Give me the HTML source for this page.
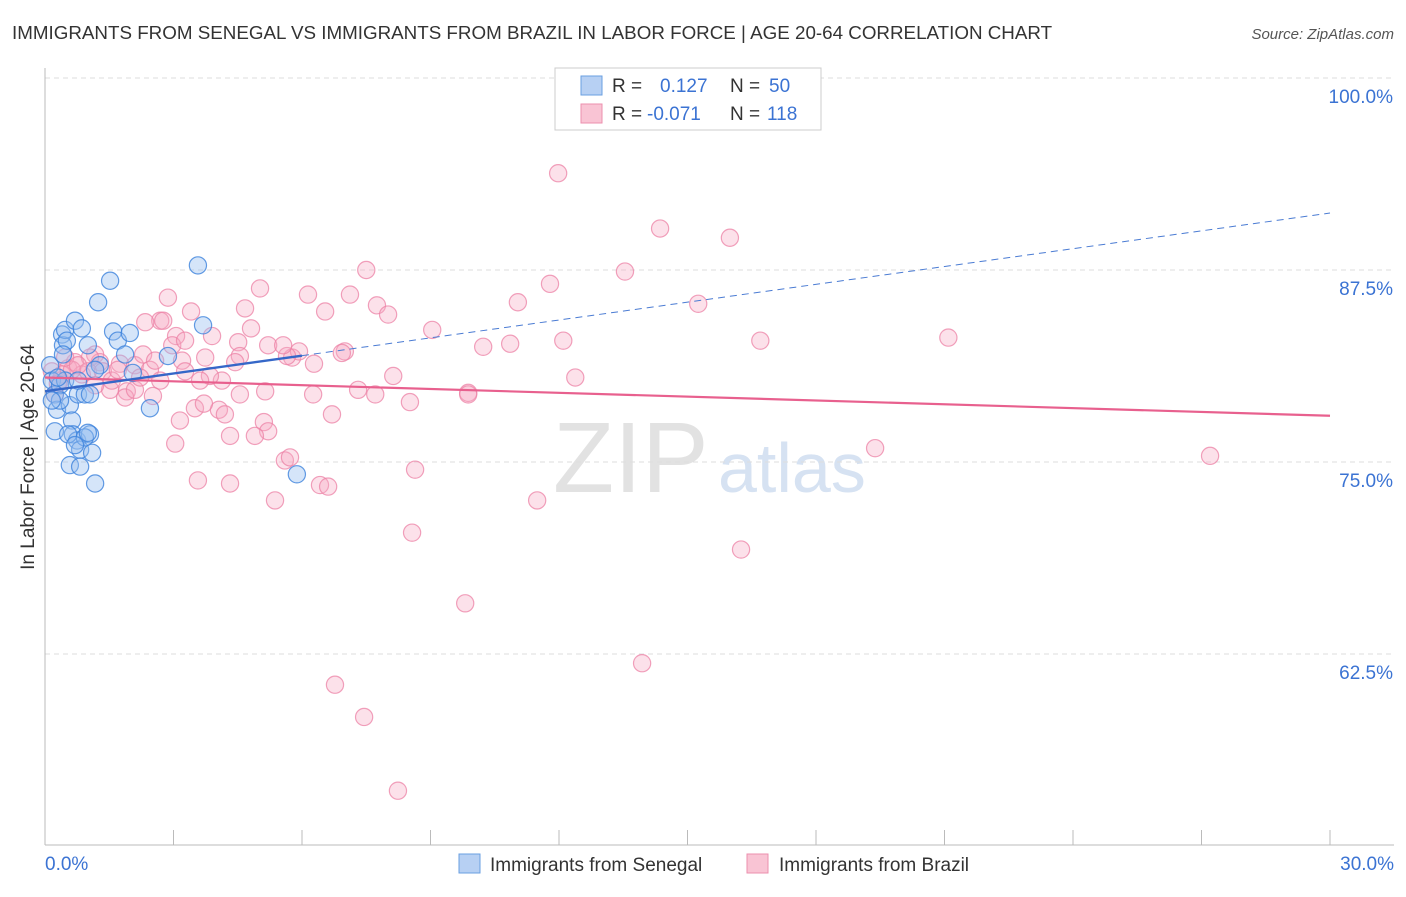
<!DOCTYPE html>
<html><head><meta charset="utf-8">
<style>
body{margin:0;background:#fff;font-family:"Liberation Sans",sans-serif;}
svg text{font-family:"Liberation Sans",sans-serif;}
</style></head>
<body>
<svg id="chart" width="1406" height="892" xmlns="http://www.w3.org/2000/svg">
<text x="12" y="39" font-size="18.8" fill="#333">IMMIGRANTS FROM SENEGAL VS IMMIGRANTS FROM BRAZIL IN LABOR FORCE | AGE 20-64 CORRELATION CHART</text>
<text x="1394" y="39" font-size="15" fill="#555" font-style="italic" text-anchor="end">Source: ZipAtlas.com</text>
<text x="553" y="492" font-size="100" fill="#e2e2e2" font-family="Liberation Serif">ZIP</text>
<text x="718" y="492" font-size="70" fill="#d6e2f2">atlas</text>
<g id="grid"></g>
<g id="axes"></g>
<g id="marks"></g>
<g>
<rect x="555" y="68" width="266" height="62" fill="#fff" stroke="#ccc"/>
<rect x="581" y="76" width="21" height="19" fill="#b7d0f3" stroke="#6a9fe0"/>
<rect x="581" y="104" width="21" height="19" fill="#f9c4d4" stroke="#ec8fae"/>
<text x="612" y="92" font-size="19" fill="#333">R = </text><text x="660" y="92" font-size="19" fill="#3b73d3">0.127</text>
<text x="730" y="92" font-size="19" fill="#333">N = </text><text x="769" y="92" font-size="19" fill="#3b73d3">50</text>
<text x="612" y="120" font-size="19" fill="#333">R = </text><text x="647" y="120" font-size="19" fill="#3b73d3">-0.071</text>
<text x="730" y="120" font-size="19" fill="#333">N = </text><text x="767" y="120" font-size="19" fill="#3b73d3">118</text>
</g>
<g>
<rect x="459" y="854" width="21" height="19" fill="#b7d0f3" stroke="#6a9fe0"/>
<text x="490" y="871" font-size="19" fill="#333">Immigrants from Senegal</text>
<rect x="747" y="854" width="21" height="19" fill="#f9c4d4" stroke="#ec8fae"/>
<text x="779" y="871" font-size="19" fill="#333">Immigrants from Brazil</text>
</g>
<text x="45" y="870" font-size="19" fill="#3b73d3">0.0%</text>
<text x="1394" y="870" font-size="19" fill="#3b73d3" text-anchor="end">30.0%</text>
<text transform="translate(34,457) rotate(-90)" font-size="19" fill="#333" text-anchor="middle">In Labor Force | Age 20-64</text>
</svg>
<script>
const senX=[0.12,0.16,0.23,0.28,0.35,0.40,0.42,0.47,0.51,0.58,0.63,0.65,0.70,0.75,0.77,0.82,0.86,0.93,1.00,1.05,1.10,1.17,1.24,1.28,1.52,1.59,1.70,1.87,1.98,2.05,2.45,2.87,3.57,3.69,5.88,0.23,0.35,0.47,0.58,0.82,0.93,1.05,0.16,0.30,0.54,0.70,1.00,0.42,0.77,1.17];
const senY=[81.3,80.3,79.4,78.4,80.0,83.3,82.6,83.6,82.9,78.7,77.7,76.8,84.2,76.4,79.4,75.8,83.7,79.4,82.6,76.8,75.6,73.6,85.4,81.3,86.8,83.5,82.9,82.0,83.4,80.8,78.5,81.9,87.8,83.9,74.2,77.0,79.0,80.3,74.8,74.7,76.6,79.4,79.0,80.5,76.8,76.1,76.9,82.0,80.3,81.0];
const braX=[11.98,14.36,15.99,13.54,11.79,15.25,11.04,7.50,5.02,6.14,7.12,7.75,8.01,6.54,9.04,12.10,16.70,21.09,10.86,10.23,7.00,5.77,5.93,6.28,2.87,3.41,4.67,4.81,4.51,3.90,3.06,2.69,2.34,2.76,1.17,1.28,1.75,2.10,2.45,3.20,3.74,4.55,5.65,6.93,8.13,12.38,9.88,9.88,8.52,7.71,7.31,6.26,5.14,4.55,4.13,3.85,3.27,2.69,1.91,1.87,1.52,2.52,3.50,4.06,4.20,5.11,5.21,4.32,6.70,4.90,3.04,5.60,5.72,8.64,3.57,4.32,5.37,6.42,6.61,11.49,8.57,16.25,9.81,13.94,6.77,7.45,8.24,19.38,27.20,0.54,0.70,0.86,1.05,0.35,0.23,0.40,1.00,0.63,1.35,1.56,2.10,2.29,3.15,3.71,5.21,5.56,4.44,0.16,0.30,0.47,0.77,1.17,1.70,2.22,2.57,2.97,3.27,3.62];
const braY=[93.8,90.2,89.6,87.4,86.6,85.3,85.4,87.5,86.3,85.9,85.9,85.2,84.6,84.8,83.6,82.9,82.9,83.1,82.7,82.5,82.2,81.8,82.2,81.4,85.7,84.8,85.0,83.7,82.8,83.2,83.2,84.2,84.1,84.2,82.0,81.5,81.4,81.3,81.0,81.6,81.8,81.9,81.9,82.1,80.6,80.5,79.5,79.4,78.9,79.4,79.7,79.4,79.6,79.4,80.3,80.6,80.9,80.3,79.6,79.2,79.7,79.3,78.5,78.4,78.1,77.6,77.0,76.7,78.1,76.7,76.2,75.1,75.3,74.5,73.8,73.6,72.5,73.5,73.4,72.5,70.4,69.3,65.8,61.9,60.5,58.4,53.6,75.9,75.4,81.1,81.5,80.7,81.8,80.3,79.4,80.7,80.9,81.0,80.9,80.3,79.7,82.0,77.7,78.8,82.6,82.6,81.5,80.9,80.1,81.8,81.3,80.0,81.0,80.5,81.6,82.6,82.9,80.3];
const senTrend=[79.6,0.387];
const braTrend=[80.5,-0.083];
const yTicks=[100,87.5,75,62.5];
const yTickLabels=["100.0%","87.5%","75.0%","62.5%"];
const xTicks=[0,3,6,9,12,15,18,21,24,27,30];

const NS="http://www.w3.org/2000/svg";
const X0=45,X1=1330,XMAX=30,Y100=78,PX_PER=15.36;
const sx=v=>X0+(v/XMAX)*(X1-X0);
const sy=v=>Y100+(100-v)*PX_PER;
function mk(tag,attrs,parent){const e=document.createElementNS(NS,tag);for(const k in attrs)e.setAttribute(k,attrs[k]);document.getElementById(parent).appendChild(e);return e;}

yTicks.forEach((t,i)=>{
 const l=mk('line',{x1:X0,x2:1394,y1:sy(t),y2:sy(t),stroke:'#ddd','stroke-dasharray':'5,4'},'grid');
 
 
 const tx=mk('text',{x:1393,y:sy(t)+25,'font-size':19,fill:'#3b73d3','text-anchor':'end'},'grid');
 tx.textContent=yTickLabels[i];
 
 
});
const ax=mk('line',{x1:X0,x2:X0,y1:68,y2:845,stroke:'#bbb'},'axes');


const bx=mk('line',{x1:X0,x2:1394,y1:845,y2:845,stroke:'#bbb'},'axes');


xTicks.forEach(t=>{
 const l=mk('line',{x1:sx(t),x2:sx(t),y1:830,y2:845,stroke:'#bbb'},'axes');
 
 
});

braX.forEach((v,i)=>{
 const c=mk('circle',{cx:sx(v),cy:sy(braY[i]),r:8.6,fill:'rgba(246,170,195,0.35)',stroke:'rgba(236,130,165,0.75)','stroke-width':1.2},'marks');
 
 
});
senX.forEach((v,i)=>{
 const c=mk('circle',{cx:sx(v),cy:sy(senY[i]),r:8.6,fill:'rgba(150,190,240,0.4)',stroke:'rgba(60,130,220,0.8)','stroke-width':1.2},'marks');
 
 
});
const bl=mk('line',{x1:sx(0),y1:sy(braTrend[0]),x2:sx(30),y2:sy(braTrend[0]+braTrend[1]*30),stroke:'#e8608e','stroke-width':2.2},'marks');


const sl=mk('line',{x1:sx(0),y1:sy(senTrend[0]),x2:sx(6),y2:sy(senTrend[0]+senTrend[1]*6),stroke:'#3567c8','stroke-width':2.4},'marks');


const sd=mk('line',{x1:sx(6),y1:sy(senTrend[0]+senTrend[1]*6),x2:sx(30),y2:sy(senTrend[0]+senTrend[1]*30),stroke:'#4a7bd3','stroke-width':1,'stroke-dasharray':'7,5'},'marks');


</script>
</body></html>
